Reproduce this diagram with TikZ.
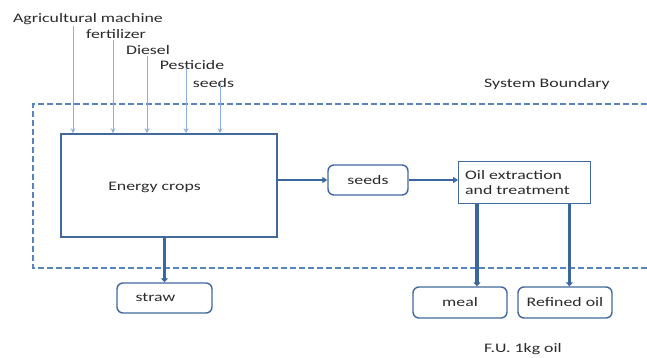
\documentclass[tikz,border=0pt]{standalone}
\usepackage{fontspec}
\usepackage{graphicx}
\setmainfont{Carlito}
\usetikzlibrary{arrows.meta,calc}
\definecolor{boxblue}{HTML}{41699C}
\definecolor{arrblue}{HTML}{3B679E}
\definecolor{inblue}{HTML}{8EAEDB}
\definecolor{dashblue}{HTML}{5584BF}
\definecolor{txt}{HTML}{2B2B2B}
\newcommand\wt[1]{\scalebox{1.37}[1]{#1}}
\tikzset{
  every node/.style={font=\fontsize{13}{15}\selectfont, text=txt},
  sqbox/.style={draw=boxblue, line width=1.6pt, fill=white, inner sep=0pt},
  rbox/.style={draw=boxblue, line width=1.4pt, rounded corners=6pt, fill=white, inner sep=0pt},
  thickarr/.style={draw=arrblue, line width=3.2pt, -{Triangle[length=4pt,width=7pt]}},
  medarr/.style={draw=arrblue, line width=1.8pt, -{Triangle[length=5pt,width=6pt]}},
  inarr/.style={draw=inblue, line width=0.9pt, -{Stealth[length=5pt,width=5pt]}},
  boundary/.style={draw=dashblue, line width=1.6pt, dash pattern=on 6pt off 3pt},
  lbl/.style={inner sep=1pt}
}
\begin{document}
\begin{tikzpicture}[x=1pt,y=-1pt]
\useasboundingbox[fill=white] (0,0) rectangle (647,358);
% boundary
\coordinate (bTR) at (647,104);
\coordinate (bTL) at (33,104);
\coordinate (bBL) at (33,268);
\coordinate (bBR) at (647,268);
\draw[boundary] (bTR) -- (bTL) -- (bBL) -- (bBR);
\node[lbl] (sysb) at (547,84) {\wt{System Boundary}};
% main boxes
\node[sqbox, minimum width=216pt, minimum height=103pt] (ec) at (169,185.5) {};
\node[lbl] (ectext) at (154.5,187) {\wt{Energy crops}};
\node[rbox, minimum width=80pt, minimum height=30pt] (seeds) at (368,180) {\wt{seeds}};
\node[sqbox, line width=1.4pt, minimum width=132pt, minimum height=42pt, anchor=north west] (oil) at (458,161) {};
\node[lbl, anchor=west, align=left] (oiltext) at (464,182.5) {\wt{Oil extraction}\\\wt{and treatment}};
\node[rbox, minimum width=95pt, minimum height=30pt] (straw) at (164.5,298) {};
\node[lbl] (strawtext) at (155.5,297) {\wt{straw}};
\node[rbox, minimum width=94pt, minimum height=31pt] (meal) at (460,302.5) {\wt{meal}};
\node[rbox, minimum width=94pt, minimum height=31pt] (refined) at (565,302.5) {\wt{Refined oil}};
\node[lbl] (fu) at (523,349) {\wt{F.U. 1kg oil}};
% inputs
\node[lbl] (am) at (88,19) {\wt{Agricultural machine}};
\node[lbl] (fert) at (116,34) {\wt{fertilizer}};
\node[lbl] (dies) at (148,50) {\wt{Diesel}};
\node[lbl] (pest) at (192,65) {\wt{Pesticide}};
\node[lbl] (sd) at (213.5,83) {\wt{seeds}};
\coordinate (x1) at (73,0);
\coordinate (x2) at (113,0);
\coordinate (x3) at (147,0);
\coordinate (x4) at (186,0);
\coordinate (x5) at (220,0);
\draw[inarr] (x1 |- am.south) -- (x1 |- ec.north);
\draw[inarr] (x2 |- fert.south) -- (x2 |- ec.north);
\draw[inarr] (x3 |- dies.south) -- (x3 |- ec.north);
\draw[inarr] ([yshift=3pt]x4 |- pest.south) -- (x4 |- ec.north);
\draw[inarr] ([yshift=6pt]x5 |- sd.south) -- (x5 |- ec.north);
% flows
\draw[medarr] (seeds.west -| ec.east) -- (seeds.west);
\draw[medarr] (seeds.east) -- (seeds.east -| oil.west);
\draw[thickarr] (ec.south -| straw.north) -- (straw.north);
\draw[thickarr] ([xshift=19pt]oil.south west) -- ([xshift=19pt]oil.south west |- meal.north);
\draw[thickarr] ([xshift=-22pt]oil.south east) -- ([xshift=-22pt]oil.south east |- refined.north);
\end{tikzpicture}
\end{document}
